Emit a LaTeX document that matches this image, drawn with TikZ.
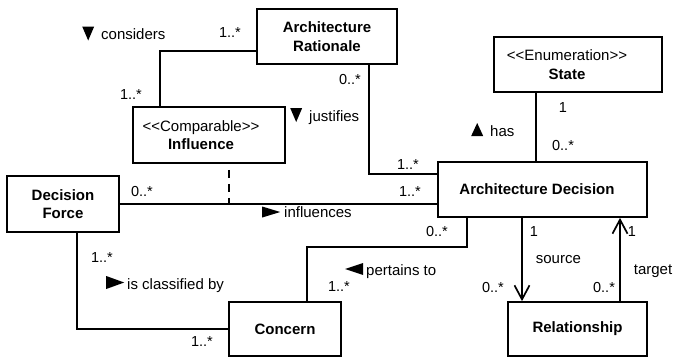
\documentclass[tikz,border=0pt]{standalone}
\usepackage{fontspec}
\setmainfont{Liberation Sans}
\usetikzlibrary{arrows.meta}

% filled direction triangles used in association labels
\newcommand\trdown{\tikz[baseline=0pt]\fill (0bp,13bp)--(12bp,13bp)--(6bp,-1bp)--cycle;}
\newcommand\trup{\tikz[baseline=0pt]\fill (0bp,0bp)--(12bp,0bp)--(6bp,13bp)--cycle;}
\newcommand\trright[1]{\tikz[baseline=0pt]\fill (0bp,0bp)--(0bp,#1)--(18bp,0.5*#1)--cycle;}
\newcommand\trleft{\tikz[baseline=0pt]\fill (18bp,0bp)--(18bp,12bp)--(0bp,6bp)--cycle;}
% UML stereotype in guillemet-style angle brackets
\newcommand\stereo[1]{<\kern0pt<#1>\kern0pt>}

\begin{document}
\begin{tikzpicture}[x=1bp, y=-1bp, line width=1.7bp,
  box/.style={draw, line width=1.7bp, inner sep=0pt, align=center,
    font=\fontsize{15bp}{18.5bp}\selectfont},
  lbl/.style={inner sep=0pt, font=\fontsize{15bp}{18bp}\selectfont},
  mult/.style={inner sep=0pt, font=\fontsize{14.5bp}{17bp}\selectfont},
  assoc/.style={line width=1.7bp},
  nav/.style={line width=1.7bp, -{Straight Barb[length=14bp,width=15bp,line width=1.7bp]}},
  dep/.style={line width=1.2bp, dash pattern=on 8bp off 6bp, dash phase=8bp}]
\useasboundingbox (0,0) rectangle (673,358);

% classes
\node[box, minimum width=140bp, minimum height=55bp] (ar) at (327,36.5)
  {\textbf{Architecture}\\\textbf{Rationale}};
\node[box, minimum width=152bp, minimum height=56bp] (inf) at (209,135)
  {\stereo{Comparable}\hspace*{16bp}\\\textbf{Influence}\hspace*{16bp}};
\node[box, minimum width=168bp, minimum height=55bp] (st) at (578,64.5)
  {\stereo{Enumeration}\hspace*{22bp}\\\textbf{State}\hspace*{22bp}};
\node[box, minimum width=209bp, minimum height=55bp] (ad) at (542.5,189.5)
  {\textbf{Architecture Decision}\hspace*{11bp}};
\node[box, minimum width=112bp, minimum height=56bp] (df) at (63,204)
  {\textbf{Decision}\\\textbf{Force}};
\node[box, minimum width=112bp, minimum height=54bp] (cn) at (285,329)
  {\textbf{Concern}};
\node[box, minimum width=139bp, minimum height=54bp] (rel) at (577.5,329)
  {\textbf{Relationship}};

% associations
\draw[assoc] ([yshift=-14.5bp]ar.west) -| ([xshift=-49bp]inf.north);
\draw[assoc] ([xshift=42bp]ar.south) |- ([yshift=15.5bp]ad.west);
\draw[assoc] ([xshift=-42bp]st.south) -- ([xshift=-42bp]st.south |- ad.north);
\draw[assoc] (df.east) -- (df.east -| ad.west);
\coordinate (cls) at ([xshift=20bp]inf.south |- df.east);
\draw[dep] ([xshift=20bp]inf.south) -- (cls);
\draw[assoc] ([xshift=14bp]df.south) |- (cn.west);
\draw[assoc] ([xshift=22bp]cn.north) |- ([xshift=-75.5bp,yshift=-29bp]ad.south)
  -- ([xshift=-75.5bp]ad.south);
\draw[nav] ([xshift=-20.5bp]ad.south) -- ([xshift=-20.5bp]ad.south |- rel.north);
\draw[nav] ([xshift=42.5bp]rel.north) -- ([xshift=42.5bp]rel.north |- ad.south);

% association names
\node[lbl, anchor=base west] (n-cons) at (82,39.5) {\trdown\hspace{7bp}considers};
\node[lbl, anchor=base west] (n-just) at (290,121) {\trdown\hspace{7bp}justifies};
\node[lbl, anchor=base west] (n-has) at (471,136) {\trup\hspace{7bp}has};
\node[lbl, anchor=base west] (n-infl) at (262,217.5) {\trright{11bp}\hspace{4bp}influences};
\node[lbl, anchor=base west] (n-class) at (106,289) {\trright{13bp}\hspace{3bp}is classified by};
\node[lbl, anchor=base west] (n-pert) at (345,275) {\trleft\hspace{3bp}pertains to};
\node[lbl, anchor=base west] (n-src) at (535,263) {source};
\node[lbl, anchor=base west] (n-tgt) at (633,274) {target};

% multiplicities
\node[mult] (m1) at (230,33) {1..*};
\node[mult] (m2) at (131,95) {1..*};
\node[mult] (m3) at (350,80) {0..*};
\node[mult] (m4) at (408,165) {1..*};
\node[mult] (m5) at (563,108) {1};
\node[mult] (m6) at (563,146) {0..*};
\node[mult] (m7) at (142,192) {0..*};
\node[mult] (m8) at (410,192) {1..*};
\node[mult] (m9) at (437,232) {0..*};
\node[mult] (m10) at (339,287) {1..*};
\node[mult] (m11) at (102,258) {1..*};
\node[mult] (m12) at (202,342) {1..*};
\node[mult] (m13) at (534,232) {1};
\node[mult] (m14) at (493,287) {0..*};
\node[mult] (m15) at (632,232) {1};
\node[mult] (m16) at (604,287) {0..*};
\end{tikzpicture}
\end{document}
